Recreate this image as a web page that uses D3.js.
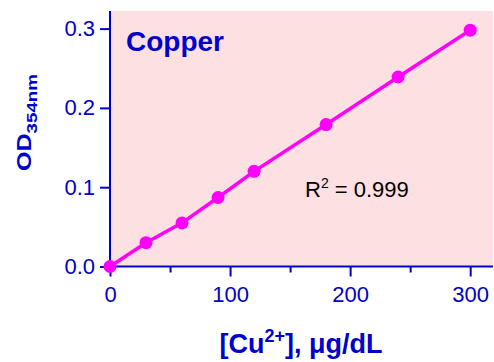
<!DOCTYPE html>
<html>
<head>
<meta charset="utf-8">
<title>Copper</title>
<script src="https://cdn.jsdelivr.net/npm/d3@7"></script>
<style>
  body { margin: 0; background: #fff; }
  text { font-family: "Liberation Sans", Arial, sans-serif; }
</style>
</head>
<body>
<script>
// data
var concentrations = [0, 30, 60, 90, 120, 180, 240, 300];
var odValues = [0, 0.030, 0.055, 0.087, 0.120, 0.179, 0.239, 0.298];
var xTicks = [0, 100, 200, 300];
var xMinorTicks = [50, 150, 250];
var yTicks = [0, 0.1, 0.2, 0.3];

var svgWidth = 494, svgHeight = 362;
var plotLeft = 110, plotTop = 11, plotRight = 493, plotBottom = 266.5;
var blue = "#0000cc";

var svg = d3.select("body").append("svg")
  .attr("width", svgWidth)
  .attr("height", svgHeight);

var x = d3.scaleLinear().domain([0, 319]).range([plotLeft, plotRight]);
var y = d3.scaleLinear().domain([0, 0.3222]).range([plotBottom, plotTop]);

// plot background
svg.append("rect")
  .attr("x", plotLeft).attr("y", plotTop)
  .attr("width", plotRight - plotLeft).attr("height", plotBottom - plotTop)
  .attr("fill", "#fde0e1");

// x axis
var xAxis = svg.append("g").attr("transform", "translate(0," + plotBottom + ")")
  .call(d3.axisBottom(x).tickValues(xTicks).tickSize(10).tickPadding(10).tickFormat(d3.format("d")));
xAxis.append("g").call(d3.axisBottom(x).tickValues(xMinorTicks).tickSize(6).tickFormat(""))
  .select(".domain").remove();

// y axis
var yAxis = svg.append("g").attr("transform", "translate(" + plotLeft + ",0)")
  .call(d3.axisLeft(y).tickValues(yTicks).tickSize(10).tickPadding(5).tickFormat(d3.format(".1f")));

svg.selectAll(".domain").attr("stroke", blue).attr("stroke-width", 2);
xAxis.select(".domain").attr("d", "M" + plotLeft + ",0H" + plotRight);
yAxis.select(".domain").attr("d", "M0," + plotBottom + "V" + plotTop);
svg.selectAll(".tick line").attr("stroke", blue).attr("stroke-width", 2);
svg.selectAll(".tick text").attr("fill", blue).attr("font-size", "22px")
  .attr("font-family", "Liberation Sans, Arial, sans-serif");

// line and points
var line = d3.line()
  .x(function(d, i) { return x(concentrations[i]); })
  .y(function(d) { return y(d); });

svg.append("path")
  .datum(odValues)
  .attr("d", line)
  .attr("fill", "none")
  .attr("stroke", "#ff00ff")
  .attr("stroke-width", 3.5);

svg.selectAll("circle.pt")
  .data(odValues)
  .enter()
  .append("circle")
  .attr("class", "pt")
  .attr("cx", function(d, i) { return x(concentrations[i]); })
  .attr("cy", function(d) { return y(d); })
  .attr("r", 6.5)
  .attr("fill", "#ff00ff");

// title in plot
svg.append("text")
  .attr("x", 126).attr("y", 51)
  .attr("fill", blue)
  .attr("font-size", "28px")
  .attr("font-weight", "bold")
  .text("Copper");

// R squared
var r2 = svg.append("text")
  .attr("x", 305).attr("y", 197)
  .attr("fill", "#000")
  .attr("font-size", "22px");
r2.append("tspan").text("R");
r2.append("tspan").attr("font-size", "14px").attr("dy", -9).text("2");
r2.append("tspan").attr("dy", 9).text(" = 0.999");

// y label (stretched along its length like the reference)
var yl = svg.append("text")
  .attr("transform", "translate(31,122.5) rotate(-90) scale(1.25,1)")
  .attr("text-anchor", "middle")
  .attr("fill", blue)
  .attr("font-size", "20px")
  .attr("font-weight", "bold");
yl.append("tspan").text("OD");
yl.append("tspan").attr("font-size", "15px").attr("dy", 6).text("354nm");

// x label
var xl = svg.append("text")
  .attr("x", 301).attr("y", 353)
  .attr("text-anchor", "middle")
  .attr("fill", blue)
  .attr("font-size", "27px")
  .attr("font-weight", "bold");
xl.append("tspan").text("[Cu");
xl.append("tspan").attr("font-size", "18px").attr("dy", -11).text("2+");
xl.append("tspan").attr("dy", 11).text("], \u03bcg/dL");
</script>
</body>
</html>
